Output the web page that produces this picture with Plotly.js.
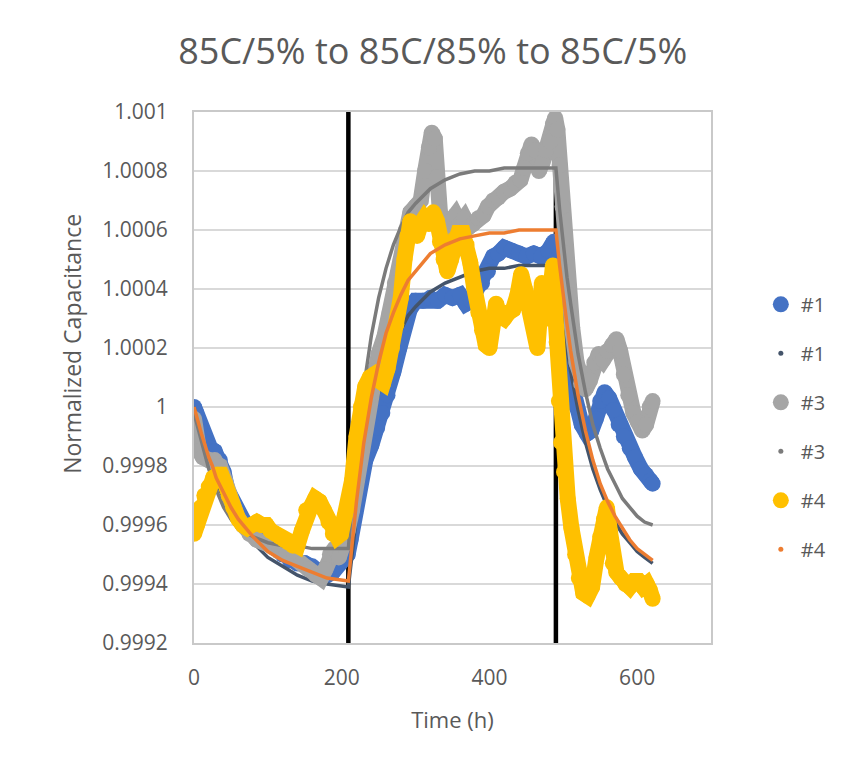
<!DOCTYPE html>
<html>
<head>
<meta charset="utf-8">
<script src="https://cdn.plot.ly/plotly-3.0.1.min.js"></script>
<style>html,body{margin:0;padding:0;background:#fff;}#chart{width:852px;height:772px;}</style>
</head>
<body>
<div id="chart"></div>
<script>
// ---- data ----
const s1T = [0,3,8,15,22,28,35,40,45,52,60,70,80,90,100,110,120,130,140,150,160,170,180,188,195,202,208,212,218,225,232,240,248,255,262,270,278,285,292,300,310,320,330,340,350,360,368,375,382,390,398,405,412,420,430,440,450,460,470,480,487,490,494,500,506,512,518,525,532,538,544,550,556,562,568,575,582,590,597,605,612,618,621];
const s1V = [1.00000,0.99998,0.99993,0.99988,0.99986,0.99985,0.99982,0.99978,0.99972,0.99968,0.99963,0.99960,0.99958,0.99956,0.99955,0.99952,0.99950,0.99948,0.99947,0.99947,0.99946,0.99944,0.99943,0.99944,0.99947,0.99949,0.99950,0.99955,0.99964,0.99975,0.99982,0.99987,0.99993,0.99998,1.00004,1.00012,1.00020,1.00028,1.00033,1.00036,1.00036,1.00037,1.00036,1.00038,1.00037,1.00038,1.00035,1.00036,1.00040,1.00042,1.00046,1.00051,1.00052,1.00054,1.00053,1.00052,1.00051,1.00052,1.00051,1.00053,1.00056,1.00050,1.00036,1.00022,1.00013,1.00006,1.00000,0.99994,0.99991,0.99992,0.99996,1.00002,1.00005,1.00003,0.99999,0.99994,0.99990,0.99986,0.99983,0.99979,0.99977,0.99975,0.99974];

const s3T = [0,3,7,12,20,28,35,42,50,58,66,75,85,95,105,115,125,135,145,155,165,172,178,184,190,196,202,208,214,220,228,236,243,250,258,265,272,280,287,293,300,307,313,318,322,326,329,333,338,343,348,354,360,366,372,378,385,392,398,405,412,420,428,435,442,447,452,457,462,467,472,477,482,486,489,492,495,499,503,507,512,518,524,530,536,542,548,554,560,566,572,577,582,588,595,601,607,612,617,621];
const s3V = [0.99996,0.99990,0.99985,0.99983,0.99982,0.99982,0.99980,0.99975,0.99968,0.99963,0.99960,0.99957,0.99955,0.99954,0.99953,0.99951,0.99950,0.99949,0.99947,0.99945,0.99943,0.99942,0.99945,0.99950,0.99952,0.99949,0.99953,0.99958,0.99965,0.99975,0.99990,1.00003,1.00012,1.00018,1.00024,1.00032,1.00042,1.00050,1.00060,1.00066,1.00068,1.00070,1.00080,1.00088,1.00093,1.00091,1.00078,1.00066,1.00063,1.00061,1.00063,1.00065,1.00062,1.00064,1.00061,1.00062,1.00064,1.00065,1.00068,1.00070,1.00071,1.00073,1.00074,1.00076,1.00077,1.00081,1.00086,1.00089,1.00087,1.00080,1.00083,1.00087,1.00090,1.00096,1.00098,1.00094,1.00082,1.00068,1.00052,1.00038,1.00027,1.00015,1.00008,1.00006,1.00009,1.00015,1.00018,1.00016,1.00019,1.00021,1.00023,1.00019,1.00011,1.00004,0.99998,0.99995,0.99992,0.99994,1.00000,1.00002];

const s4T = [0,4,9,14,20,26,32,37,42,47,53,60,66,72,78,85,92,98,104,110,116,122,128,134,140,146,152,158,164,170,176,182,188,194,199,204,209,214,220,226,232,238,244,250,256,262,268,274,280,285,289,293,297,302,307,312,318,324,329,333,338,343,348,353,358,364,369,374,379,385,390,395,400,405,409,414,420,426,432,438,443,448,453,458,462,465,468,471,475,479,483,486,489,491,494,497,501,506,511,516,521,527,533,539,545,550,555,559,563,567,572,578,584,590,596,602,608,613,617,621];
const s4V = [0.99957,0.99960,0.99966,0.99970,0.99973,0.99976,0.99977,0.99977,0.99974,0.99970,0.99966,0.99962,0.99960,0.99959,0.99960,0.99961,0.99960,0.99960,0.99958,0.99957,0.99956,0.99955,0.99954,0.99953,0.99953,0.99958,0.99965,0.99966,0.99969,0.99968,0.99965,0.99961,0.99957,0.99956,0.99957,0.99963,0.99966,0.99975,0.99990,1.00000,1.00007,1.00010,1.00011,1.00009,1.00008,1.00013,1.00020,1.00028,1.00037,1.00050,1.00058,1.00063,1.00060,1.00058,1.00062,1.00064,1.00062,1.00066,1.00063,1.00056,1.00050,1.00046,1.00050,1.00057,1.00059,1.00059,1.00055,1.00049,1.00041,1.00032,1.00026,1.00021,1.00020,1.00030,1.00035,1.00031,1.00030,1.00032,1.00033,1.00038,1.00045,1.00040,1.00034,1.00033,1.00025,1.00020,1.00030,1.00042,1.00038,1.00030,1.00042,1.00048,1.00032,1.00022,1.00002,0.99988,0.99978,0.99969,0.99959,0.99950,0.99942,0.99937,0.99936,0.99939,0.99949,0.99956,0.99962,0.99966,0.99958,0.99947,0.99944,0.99942,0.99940,0.99939,0.99941,0.99941,0.99939,0.99940,0.99938,0.99935];

const fitT  = [0,5,10,15,20,25,30,40,50,60,80,100,120,140,160,180,209,
  215,220,230,240,250,260,270,280,290,300,320,340,360,380,400,420,440,460,490,
  495,500,505,510,515,520,530,540,550,560,570,580,590,600,610,621];
const fit1V = [1.00000,0.99995,0.99990,0.99986,0.99982,0.99978,0.99975,0.99969,0.99964,0.99960,0.99954,0.99949,0.99946,0.99943,0.99941,0.99940,0.99939,
  0.99953,0.99963,0.99980,0.99994,1.00005,1.00014,1.00021,1.00026,1.00031,1.00034,1.00039,1.00042,1.00044,1.00046,1.00047,1.00047,1.00048,1.00048,1.00048,
  1.00038,1.00028,1.00020,1.00012,1.00005,0.99999,0.99988,0.99979,0.99972,0.99966,0.99961,0.99957,0.99954,0.99951,0.99949,0.99947];
const fit3V = [0.99998,0.99993,0.99988,0.99983,0.99979,0.99975,0.99972,0.99966,0.99962,0.99959,0.99956,0.99954,0.99953,0.99953,0.99952,0.99952,0.99952,
  0.99971,0.99984,1.00007,1.00024,1.00037,1.00047,1.00055,1.00061,1.00066,1.00069,1.00074,1.00077,1.00079,1.00080,1.00080,1.00081,1.00081,1.00081,1.00081,
  1.00067,1.00055,1.00044,1.00035,1.00026,1.00018,1.00005,0.99994,0.99986,0.99979,0.99974,0.99969,0.99966,0.99963,0.99961,0.99960];
const fit4V = [1.00000,0.99995,0.99991,0.99987,0.99983,0.99980,0.99976,0.99971,0.99966,0.99962,0.99956,0.99951,0.99948,0.99946,0.99944,0.99942,0.99941,
  0.99957,0.99968,0.99988,1.00003,1.00015,1.00025,1.00032,1.00038,1.00043,1.00046,1.00052,1.00055,1.00057,1.00058,1.00059,1.00059,1.00060,1.00060,1.00060,
  1.00048,1.00037,1.00028,1.00019,1.00011,1.00004,0.99992,0.99982,0.99974,0.99968,0.99963,0.99959,0.99955,0.99952,0.99950,0.99948];

const markerTimes = [209, 490];
const yMin = 0.9992, yMax = 1.001;
const yTickVals = [0.9992,0.9994,0.9996,0.9998,1,1.0002,1.0004,1.0006,1.0008,1.001];
const yTickText = ['0.9992','0.9994','0.9996','0.9998','1','1.0002','1.0004','1.0006','1.0008','1.001'];
const xTickVals = [0,200,400,600];
const seriesNames = ['#1','#1','#3','#3','#4','#4'];

const BLUE='#4472C4', GRAY='#A5A5A5', YEL='#FFC000', DARK='#44546A', DGRAY='#7B7B7B', ORA='#ED7D31';
const TXT='#595959';
const FONT='Open Sans, sans-serif';

const traces = [];
markerTimes.forEach(t => traces.push({x:[t,t], y:[yMin,yMax], mode:'lines', line:{color:'#000',width:4.5}, showlegend:false, hoverinfo:'skip'}));
function dataTrace(x,y,c){return {x:x,y:y,mode:'lines+markers',line:{color:c,width:16},marker:{color:c,size:16},showlegend:false};}
function fitTrace(x,y,c){return {x:x,y:y,mode:'lines',line:{color:c,width:3.5},showlegend:false};}
traces.push(dataTrace(s1T,s1V,BLUE));
traces.push(fitTrace(fitT,fit1V,DARK));
traces.push(dataTrace(s3T,s3V,GRAY));
traces.push(fitTrace(fitT,fit3V,DGRAY));
traces.push(dataTrace(s4T,s4V,YEL));
traces.push(fitTrace(fitT,fit4V,ORA));
const legCols=[BLUE,DARK,GRAY,DGRAY,YEL,ORA];
const legSizes=[16,5,16,5,16,5];
seriesNames.forEach((n,i)=>traces.push({x:[null],y:[null],mode:'markers',name:n,marker:{color:legCols[i],size:legSizes[i]},legendgroup:'g'+i,showlegend:true}));

const layout = {
  width:852, height:772,
  paper_bgcolor:'#fff', plot_bgcolor:'#fff',
  margin:{l:194,r:141,t:112,b:129},
  font:{family:FONT,color:TXT,size:21},
  title:{text:'85C/5% to 85C/85% to 85C/5%', font:{family:FONT,size:36,color:TXT}, xref:'container', x:0.508, y:0.933, yanchor:'middle', xanchor:'center'},
  xaxis:{range:[0,700], tickvals:xTickVals, showgrid:false, zeroline:false, showline:true, mirror:true, linecolor:'#C9C9C9', linewidth:2, ticks:'', ticklabelstandoff:15, tickfont:{size:21,color:TXT},
    title:{text:'Time (h)', font:{size:22,color:TXT}, standoff:22}},
  yaxis:{range:[yMin,yMax], tickvals:yTickVals, ticktext:yTickText, showgrid:true, gridcolor:'#D9D9D9', gridwidth:1.5, zeroline:false, showline:true, mirror:true, linecolor:'#C9C9C9', linewidth:2, ticks:'', ticklabelstandoff:20, tickfont:{size:21,color:TXT}},
  annotations:[{text:'Normalized Capacitance', textangle:-90, xref:'paper', yref:'paper', x:(72-194)/517, y:(643.3-344)/531.3, xanchor:'center', yanchor:'middle', showarrow:false, font:{size:23,color:TXT,family:FONT}}],
  legend:{xref:'container', yref:'container', x:0.893, y:0.631, xanchor:'left', yanchor:'top', font:{size:20,color:TXT}, tracegroupgap:20, bgcolor:'rgba(0,0,0,0)', itemsizing:'trace'},
  showlegend:true
};
Plotly.newPlot('chart', traces, layout, {displayModeBar:false, staticPlot:true});
</script>
</body>
</html>
